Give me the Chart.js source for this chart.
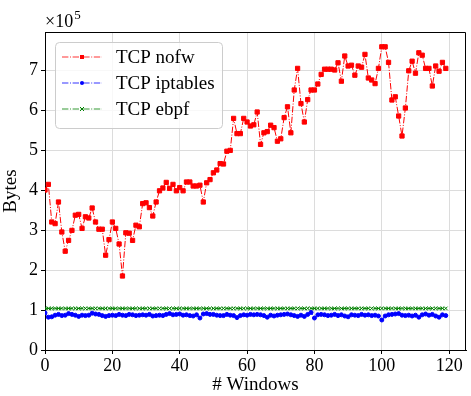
<!DOCTYPE html>
<html>
<head>
<meta charset="utf-8">
<script src="https://cdn.jsdelivr.net/npm/chart.js@4.4.0/dist/chart.umd.min.js"></script>
<style>
  html, body { margin: 0; padding: 0; background: #fff; }
  canvas { display: block; }
</style>
</head>
<body>
<canvas id="chart" width="471" height="396"></canvas>
<script>
/* --- Data (Bytes, in units of 1e5) --- */
const seriesNames = ['TCP nofw', 'TCP iptables', 'TCP ebpf'];
const xTicks = [0, 20, 40, 60, 80, 100, 120];
const yTicks = [0, 1, 2, 3, 4, 5, 6, 7];

const nofw = [
  4.00, 4.14, 3.20, 3.16, 3.70, 2.95, 2.47, 2.74, 2.99, 3.37,
  3.39, 3.04, 3.33, 3.30, 3.55, 3.20, 3.02, 3.02, 2.37, 2.76,
  3.20, 3.04, 2.65, 1.85, 2.93, 2.92, 2.74, 3.12, 3.08, 3.66,
  3.68, 3.56, 3.35, 3.70, 3.98, 4.05, 4.19, 4.04, 4.14, 3.98,
  4.06, 3.98, 4.20, 4.20, 4.10, 4.10, 4.12, 3.70, 4.18, 4.26,
  4.43, 4.50, 4.66, 4.65, 4.97, 4.99, 5.79, 5.41, 5.41, 5.79,
  5.70, 5.60, 5.63, 5.95, 5.14, 5.43, 5.46, 5.62, 5.56, 5.22,
  5.28, 5.81, 6.08, 5.43, 6.50, 7.04, 6.16, 5.70, 6.26, 6.50,
  6.50, 6.65, 6.89, 7.02, 7.02, 7.02, 7.00, 7.18, 6.72, 7.35,
  7.10, 7.12, 6.87, 7.10, 7.07, 7.39, 6.80, 6.75, 6.66, 7.04,
  7.58, 7.58, 7.19, 6.25, 6.33, 5.85, 5.35, 6.05, 6.98, 7.22,
  6.92, 7.43, 7.37, 7.04, 7.04, 6.60, 7.10, 6.97, 7.19, 7.04
];

const iptables = [
  0.93, 0.82, 0.83, 0.87, 0.89, 0.86, 0.87, 0.91, 0.89, 0.87,
  0.84, 0.87, 0.86, 0.87, 0.92, 0.90, 0.89, 0.86, 0.84, 0.86,
  0.87, 0.86, 0.89, 0.87, 0.86, 0.89, 0.88, 0.86, 0.87, 0.88,
  0.87, 0.89, 0.85, 0.86, 0.87, 0.86, 0.89, 0.91, 0.88, 0.89,
  0.90, 0.87, 0.88, 0.86, 0.85, 0.88, 0.80, 0.90, 0.91, 0.89,
  0.89, 0.87, 0.86, 0.86, 0.89, 0.87, 0.86, 0.81, 0.86, 0.88,
  0.87, 0.89, 0.88, 0.89, 0.88, 0.86, 0.82, 0.87, 0.85, 0.87,
  0.88, 0.89, 0.90, 0.88, 0.86, 0.84, 0.87, 0.84, 0.89, 0.94,
  0.80, 0.88, 0.89, 0.88, 0.86, 0.87, 0.89, 0.86, 0.88, 0.85,
  0.83, 0.88, 0.87, 0.86, 0.89, 0.87, 0.88, 0.86, 0.87, 0.85,
  0.75, 0.85, 0.88, 0.89, 0.90, 0.91, 0.87, 0.86, 0.87, 0.85,
  0.87, 0.82, 0.88, 0.90, 0.87, 0.89, 0.85, 0.82, 0.88, 0.86
];

const ebpf = [
  1.04, 1.04, 1.04, 1.04, 1.04, 1.04, 1.04, 1.04, 1.04, 1.04,
  1.04, 1.04, 1.04, 1.04, 1.04, 1.04, 1.04, 1.04, 1.04, 1.04,
  1.04, 1.04, 1.04, 1.04, 1.04, 1.04, 1.04, 1.04, 1.04, 1.04,
  1.04, 1.04, 1.04, 1.04, 1.04, 1.04, 1.04, 1.04, 1.04, 1.04,
  1.04, 1.04, 1.04, 1.04, 1.04, 1.04, 1.04, 1.04, 1.04, 1.04,
  1.04, 1.04, 1.04, 1.04, 1.04, 1.04, 1.04, 1.04, 1.04, 1.04,
  1.04, 1.04, 1.04, 1.04, 1.04, 1.04, 1.04, 1.04, 1.04, 1.04,
  1.04, 1.04, 1.04, 1.04, 1.04, 1.04, 1.04, 1.04, 1.04, 1.04,
  1.04, 1.04, 1.04, 1.04, 1.04, 1.04, 1.04, 1.04, 1.04, 1.04,
  1.04, 1.04, 1.04, 1.04, 1.04, 1.04, 1.04, 1.04, 1.04, 1.04,
  1.04, 1.04, 1.04, 1.04, 1.04, 1.04, 1.04, 1.04, 1.04, 1.04,
  1.04, 1.04, 1.04, 1.04, 1.04, 1.04, 1.04, 1.04, 1.04, 1.04
];

/* --- Styles --- */
const serif = 'Liberation Serif';
const dashDot = [6.4, 1.6, 1, 1.6];
const styles = [
  { color: '#ff0000', pointStyle: 'rect', radius: 3 },
  { color: '#0000ff', pointStyle: 'circle', radius: 2 },
  { color: '#008000', pointStyle: 'crossRot', radius: 2.5 }
];

// window index is the x value
const toPoints = arr => arr.map((v, i) => ({ x: i, y: v }));

const datasets = [nofw, iptables, ebpf].map((arr, k) => ({
  label: seriesNames[k],
  data: toPoints(arr),
  borderColor: styles[k].color,
  backgroundColor: styles[k].color,
  borderWidth: 1,
  borderDash: dashDot,
  pointStyle: styles[k].pointStyle,
  pointRadius: styles[k].radius,
  pointBorderWidth: 1,
  pointBorderColor: styles[k].color,
  pointBackgroundColor: styles[k].color,
  tension: 0,
  order: 3 - k
}));

// small marker for the legend
function legendMarker(ctx, style, x, y) {
  ctx.fillStyle = style.color;
  ctx.strokeStyle = style.color;
  ctx.lineWidth = 1;
  ctx.beginPath();
  if (style.pointStyle === 'rect') {
    ctx.rect(x - 2, y - 2, 4, 4);
    ctx.fill();
  } else if (style.pointStyle === 'circle') {
    ctx.arc(x, y, 2, 0, Math.PI * 2);
    ctx.fill();
  } else {
    ctx.moveTo(x - 2, y - 2); ctx.lineTo(x + 2, y + 2);
    ctx.moveTo(x - 2, y + 2); ctx.lineTo(x + 2, y - 2);
    ctx.stroke();
  }
}

/* --- Extras: frame, x10^5 offset text, legend box --- */
const extras = {
  id: 'extras',
  afterDraw(chart) {
    const ctx = chart.ctx;
    const a = chart.chartArea;
    ctx.save();

    // top + right spines
    ctx.strokeStyle = '#000';
    ctx.lineWidth = 1;
    ctx.beginPath();
    ctx.moveTo(a.left, a.top + 0.5);
    ctx.lineTo(a.right - 0.5, a.top + 0.5);
    ctx.lineTo(a.right - 0.5, a.bottom);
    ctx.stroke();

    // offset text
    ctx.fillStyle = '#000';
    ctx.textBaseline = 'alphabetic';
    ctx.textAlign = 'left';
    ctx.font = '18px "' + serif + '"';
    ctx.fillText('\u00d710', a.left, 27);
    const w = ctx.measureText('\u00d710').width;
    ctx.font = '13px "' + serif + '"';
    ctx.fillText('5', a.left + w + 1, 19);

    // legend
    const bx = 55, by = 42, bw = 167, bh = 86, r = 4;
    ctx.beginPath();
    ctx.roundRect(bx + 0.5, by + 0.5, bw, bh, r);
    ctx.fillStyle = 'rgba(255,255,255,0.8)';
    ctx.fill();
    ctx.strokeStyle = '#cccccc';
    ctx.stroke();

    const rows = [57, 83, 109];
    seriesNames.forEach((name, k) => {
      const y = rows[k];
      const s = styles[k];
      ctx.save();
      ctx.strokeStyle = s.color;
      ctx.globalAlpha = 0.8;
      ctx.lineWidth = 1;
      ctx.setLineDash(dashDot);
      ctx.beginPath();
      ctx.moveTo(62, y);
      ctx.lineTo(102, y);
      ctx.stroke();
      ctx.restore();
      legendMarker(ctx, s, 82, y);

      ctx.fillStyle = '#000';
      ctx.font = '19px "' + serif + '"';
      ctx.textBaseline = 'middle';
      ctx.fillText(name, 116, y + 1);
    });
    ctx.restore();
  }
};

const tickFont = { family: serif, size: 18 };
const titleFont = { family: serif, size: 19 };

new Chart(document.getElementById('chart').getContext('2d'), {
  type: 'line',
  data: { datasets },
  options: {
    responsive: false,
    animation: false,
    devicePixelRatio: 1,
    layout: { padding: { top: 32, right: 1, left: 0, bottom: 0 } },
    plugins: { legend: { display: false }, tooltip: { enabled: false } },
    scales: {
      x: {
        type: 'linear',
        min: 0,
        max: 125,
        afterBuildTicks: s => { s.ticks = xTicks.map(v => ({ value: v })); },
        ticks: { font: tickFont, color: '#000', padding: 1, maxRotation: 0, autoSkip: false },
        grid: { color: '#dcdcdc', tickColor: '#000', tickLength: 4 },
        border: { color: '#000', width: 1 },
        title: { display: true, text: '# Windows', font: titleFont, color: '#000', padding: { top: 0, bottom: 0 } },
        afterFit: s => { s.height = 46; }
      },
      y: {
        min: 0,
        max: 7.95,
        afterBuildTicks: s => { s.ticks = yTicks.map(v => ({ value: v })); },
        ticks: { font: tickFont, color: '#000', padding: 3, autoSkip: false },
        grid: { color: '#dcdcdc', tickColor: '#000', tickLength: 4 },
        border: { color: '#000', width: 1 },
        title: { display: true, text: 'Bytes', font: titleFont, color: '#000', padding: { top: 0, bottom: 6 } },
        afterFit: s => { s.width = 45; }
      }
    }
  },
  plugins: [extras]
});
</script>
</body>
</html>
